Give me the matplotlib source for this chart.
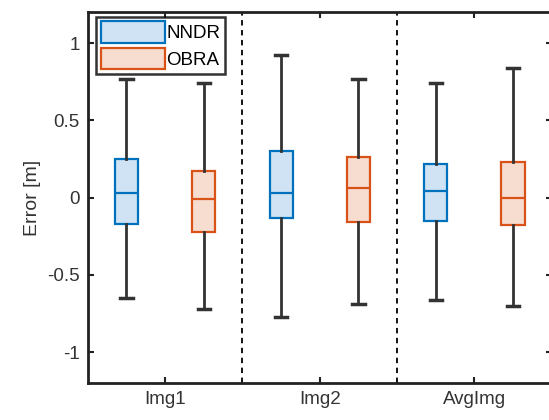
import matplotlib.pyplot as plt
from matplotlib.patches import Patch

plt.rcParams["font.family"] = ["Liberation Sans", "DejaVu Sans"]

groups = ["Img1", "Img2", "AvgImg"]
methods = ["NNDR", "OBRA"]

# whisker low, q1, median, q3, whisker high
nndr_low = [-0.65, -0.77, -0.66]
nndr_q1 = [-0.17, -0.135, -0.15]
nndr_med = [0.03, 0.03, 0.04]
nndr_q3 = [0.25, 0.30, 0.22]
nndr_high = [0.77, 0.92, 0.74]

obra_low = [-0.72, -0.69, -0.70]
obra_q1 = [-0.22, -0.155, -0.18]
obra_med = [-0.01, 0.06, 0.0]
obra_q3 = [0.175, 0.265, 0.23]
obra_high = [0.74, 0.77, 0.84]

edge = {"NNDR": "#0072BD", "OBRA": "#D95319"}
face = {"NNDR": "#cfe3f4", "OBRA": "#f7dcd0"}

fig = plt.figure(figsize=(5.49, 4.2), dpi=100)
ax = fig.add_axes([0.160, 0.088, 0.845, 0.883])

data = {
    "NNDR": (nndr_low, nndr_q1, nndr_med, nndr_q3, nndr_high),
    "OBRA": (obra_low, obra_q1, obra_med, obra_q3, obra_high),
}
offsets = {"NNDR": -0.25, "OBRA": 0.25}

for m in methods:
    lo, q1, med, q3, hi = data[m]
    stats = []
    for i in range(len(groups)):
        stats.append({"whislo": lo[i], "q1": q1[i], "med": med[i],
                      "q3": q3[i], "whishi": hi[i], "fliers": []})
    pos = [i + 1 + offsets[m] for i in range(len(groups))]
    ax.bxp(stats, positions=pos, widths=0.15, capwidths=0.08,
           patch_artist=True, showfliers=False,
           boxprops=dict(facecolor=face[m], edgecolor=edge[m], linewidth=1.6),
           medianprops=dict(color=edge[m], linewidth=1.6),
           whiskerprops=dict(color="#333333", linewidth=2),
           capprops=dict(color="#333333", linewidth=2.5),
           manage_ticks=False, zorder=3)

for x in [1.5, 2.5]:
    ax.axvline(x, color="black", linestyle=(0, (3, 2.5)), linewidth=1.3, zorder=1)

ax.set_xlim(0.5, 3.5)
ax.set_ylim(-1.2, 1.2)
ax.set_xticks([1, 2, 3])
ax.set_xticklabels(groups)
ax.set_yticks([-1, -0.5, 0, 0.5, 1])
ax.set_yticklabels(["-1", "-0.5", "0", "0.5", "1"])
ax.set_ylabel("Error [m]", fontsize=14, color="#333333", labelpad=4)
ax.tick_params(direction="in", top=True, right=True, length=4, width=1.5,
               labelsize=13.5, colors="#222222", labelcolor="#333333", pad=6)
for s in ax.spines.values():
    s.set_linewidth(2)
    s.set_color("#222222")

handles = [Patch(facecolor=face[m], edgecolor=edge[m], linewidth=1.6, label=m) for m in methods]
leg = ax.legend(handles=handles, loc="upper left", bbox_to_anchor=(0.018, 0.988),
                fancybox=False, edgecolor="black", fontsize=13.5,
                handlelength=3.4, handleheight=1.4, handletextpad=0.1,
                borderpad=0.25, labelspacing=0.25, borderaxespad=0)
leg.get_frame().set_linewidth(1.8)

fig.savefig("out.png", dpi=100)
